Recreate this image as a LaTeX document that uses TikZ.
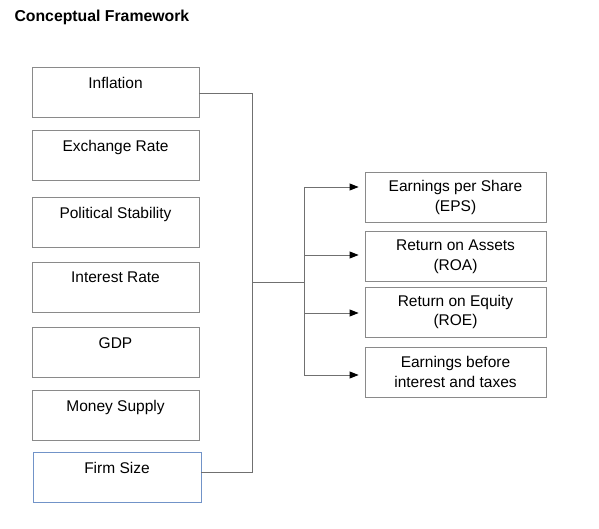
\documentclass[tikz,border=0pt]{standalone}
\usepackage{fontspec}
\setmainfont{Liberation Sans}
\usetikzlibrary{arrows.meta,calc}
\definecolor{boxgray}{HTML}{8A8A8A}
\definecolor{linegray}{HTML}{707070}
\definecolor{firmblue}{HTML}{7193C8}
\tikzset{
  leftbox/.style={draw=boxgray, line width=0.9pt, minimum width=167pt, minimum height=50pt, inner sep=0pt, align=center, font=\fontsize{15.5}{19}\selectfont},
  rightbox/.style={draw=boxgray, line width=0.9pt, minimum width=181pt, minimum height=50pt, inner sep=0pt, align=center, font=\fontsize{15.5}{19.5}\selectfont},
  conn/.style={draw=linegray, line width=0.9pt},
  arr/.style={conn, -{Triangle[length=9pt,width=7pt,color=black]}},
}
\begin{document}
\begin{tikzpicture}[x=1pt,y=-1pt]
\useasboundingbox (0,0) rectangle (599,529);
\node[anchor=west, font=\fontsize{15.8}{19}\selectfont\bfseries] (title) at (11,17) {Conceptual Framework};

\node[leftbox] (infl) at (115.5,92) {Inflation\\ \mbox{}};
\node[leftbox] (exch) at (115.5,155.5) {Exchange Rate\\ \mbox{}};
\node[leftbox] (pol)  at (115.5,222.5) {Political Stability\\ \mbox{}};
\node[leftbox] (int)  at (115.5,287) {Interest Rate\\ \mbox{}};
\node[leftbox] (gdp)  at (115.5,352.5) {GDP\\ \mbox{}};
\node[leftbox] (money) at (115.5,415) {Money Supply\\ \mbox{}};
\node[leftbox, draw=firmblue, minimum width=168pt] (firm) at (117,477) {Firm Size\\ \mbox{}};

\node[rightbox] (eps) at (455.5,197.5) {Earnings per Share\\(EPS)};
\node[rightbox] (roa) at (455.5,256.7) {Return on Assets\\(ROA)};
\node[rightbox] (roe) at (455.5,312) {Return on Equity\\(ROE)};
\node[rightbox] (ebit) at (455.5,372) {Earnings before\\interest and taxes};

\coordinate (inflout) at ($(infl.east)+(0,1.5)$);
\coordinate (firmout) at ($(firm.east)+(0,-5)$);
\coordinate (trunktop) at (252.5,93.5);
\coordinate (trunkbot) at (252.5,472);
\coordinate (split) at (252.5,282);
\coordinate (bus) at (304,282);
\coordinate (tEPS) at ($(eps.west)+(-6,-10.5)$);
\coordinate (tROA) at ($(roa.west)+(-6,-1.7)$);
\coordinate (tROE) at ($(roe.west)+(-6,1)$);
\coordinate (tEBIT) at ($(ebit.west)+(-6,3)$);
\coordinate (bustop) at (bus |- tEPS);
\coordinate (busbot) at (bus |- tEBIT);

\draw[conn] (inflout) -- (trunktop) -- (trunkbot) -- (firmout);
\draw[conn] (split) -- (bus);
\draw[conn] (bustop) -- (busbot);

\draw[arr] (bustop) -- (tEPS);
\draw[arr] (bus |- tROA) -- (tROA);
\draw[arr] (bus |- tROE) -- (tROE);
\draw[arr] (busbot) -- (tEBIT);
\end{tikzpicture}
\end{document}
